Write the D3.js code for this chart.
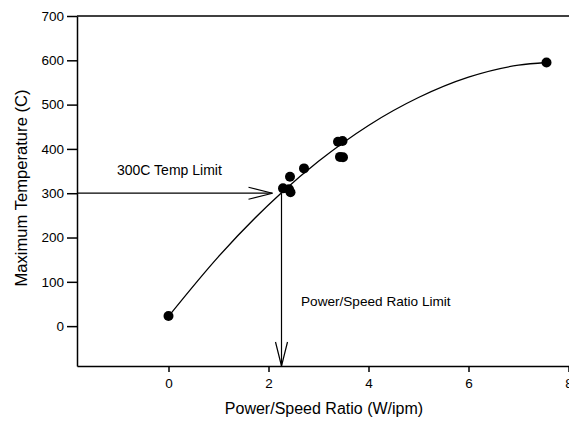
<!DOCTYPE html>
<html>
<head>
<meta charset="utf-8">
<script src="https://cdn.jsdelivr.net/npm/d3@7"></script>
<style>
  body { margin: 0; background: #fff; }
  text { font-family: "Liberation Sans", Arial, sans-serif; fill: #000; }
</style>
</head>
<body>
<div class="chart"></div>
<script>
// measured points
var ratio = [0, 2.29, 2.41, 2.44, 2.43, 2.71, 3.39, 3.48, 3.43, 3.49, 7.56];
var temp = [23, 311, 309, 302, 337, 356, 416, 418, 382, 381, 595];

// fitted curve
var curveX = [0, 1, 2.25, 3, 4, 5, 6, 7, 7.56];
var curveY = [22, 157, 300, 372, 453, 516, 562, 589, 595];

var xTicks = [0, 2, 4, 6, 8];
var yTicks = [0, 100, 200, 300, 400, 500, 600, 700];

var tempLimit = 300;
var ratioLimit = 2.26;
var ratioArrowEnd = 2.08;

var width = 569, height = 421;

var svg = d3.select(".chart").append("svg")
    .attr("width", width)
    .attr("height", height);

var x = d3.scaleLinear().domain([-1.83, 8]).range([77, 568.5]);
var y = d3.scaleLinear().domain([-90, 700]).range([366, 16]);

// axes
var yAxis = svg.append("g")
    .attr("transform", "translate(77,0)")
    .call(d3.axisLeft(y).tickValues(yTicks).tickSize(10).tickPadding(3).tickSizeOuter(0));
var xAxis = svg.append("g")
    .attr("transform", "translate(0,366)")
    .call(d3.axisBottom(x).tickValues(xTicks).tickSize(6).tickPadding(6).tickSizeOuter(0));

svg.selectAll(".domain, .tick line").attr("stroke", "#000").attr("stroke-width", 1.5);
svg.selectAll(".tick text").attr("font-size", 13.5).attr("font-family", "Liberation Sans, Arial, sans-serif");

// top border
svg.append("line")
    .attr("x1", x.range()[0]).attr("x2", width)
    .attr("y1", y(700)).attr("y2", y(700))
    .attr("stroke", "#000").attr("stroke-width", 1.5);

// curve
var pts = curveX.map(function (d, i) { return [d, curveY[i]]; });
var line = d3.line()
    .x(function (d) { return x(d[0]); })
    .y(function (d) { return y(d[1]); })
    .curve(d3.curveMonotoneX);
svg.append("path")
    .datum(pts)
    .attr("d", line)
    .attr("fill", "none")
    .attr("stroke", "#000")
    .attr("stroke-width", 1.3);

// data points
svg.selectAll("circle")
    .data(ratio)
    .enter()
    .append("circle")
    .attr("cx", function (d) { return x(d); })
    .attr("cy", function (d, i) { return y(temp[i]); })
    .attr("r", 5)
    .attr("fill", "#000");

// horizontal arrow (temperature limit)
var hy = y(tempLimit), hx = x(ratioArrowEnd);
svg.append("line")
    .attr("x1", x.range()[0]).attr("x2", hx)
    .attr("y1", hy).attr("y2", hy)
    .attr("stroke", "#000").attr("stroke-width", 1.2);
svg.append("path")
    .attr("d", "M" + (hx - 24) + "," + (hy - 6) + "L" + hx + "," + hy + "L" + (hx - 24) + "," + (hy + 6))
    .attr("fill", "none").attr("stroke", "#000").attr("stroke-width", 1.2);

// vertical arrow (ratio limit)
var vx = x(ratioLimit), vb = y.range()[0];
svg.append("line")
    .attr("x1", vx).attr("x2", vx)
    .attr("y1", hy).attr("y2", vb)
    .attr("stroke", "#000").attr("stroke-width", 1.2);
svg.append("path")
    .attr("d", "M" + (vx - 6) + "," + (vb - 24) + "L" + vx + "," + vb + "L" + (vx + 6) + "," + (vb - 24))
    .attr("fill", "none").attr("stroke", "#000").attr("stroke-width", 1.2);

// annotations
svg.append("text")
    .attr("x", 117).attr("y", 175)
    .attr("font-size", 14)
    .text("300C Temp Limit");
svg.append("text")
    .attr("x", 301).attr("y", 306)
    .attr("font-size", 13.6)
    .text("Power/Speed Ratio Limit");

// axis titles
svg.append("text")
    .attr("x", 324).attr("y", 414)
    .attr("text-anchor", "middle")
    .attr("font-size", 16)
    .text("Power/Speed Ratio (W/ipm)");
svg.append("text")
    .attr("transform", "translate(27,188) rotate(-90)")
    .attr("text-anchor", "middle")
    .attr("font-size", 16.6)
    .text("Maximum Temperature (C)");
</script>
</body>
</html>
